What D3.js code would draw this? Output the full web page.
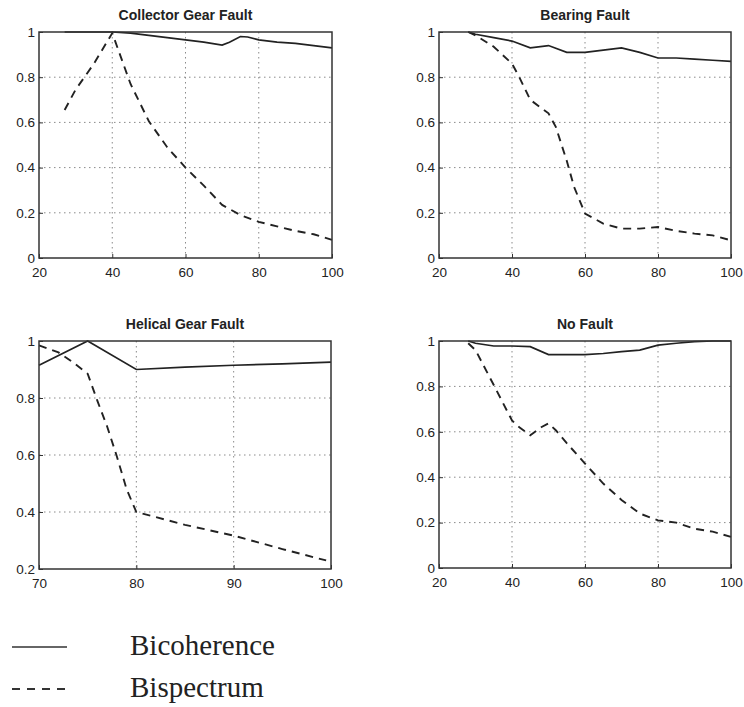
<!DOCTYPE html>
<html>
<head>
<meta charset="utf-8">
<script src="https://cdn.jsdelivr.net/npm/d3@7"></script>
<style>
  body { margin: 0; background: #fff; }
  svg { display: block; }
</style>
</head>
<body>
<script>
var width = 744,
    height = 707;

// ----- data -----
var titles = ["Collector Gear Fault", "Bearing Fault", "Helical Gear Fault", "No Fault"];
var xTicksWide = [20, 40, 60, 80, 100];
var xTicksHelical = [70, 80, 90, 100];
var yTicksFull = [0, 0.2, 0.4, 0.6, 0.8, 1];
var yTicksHelical = [0.2, 0.4, 0.6, 0.8, 1];

var collectorBicoX = [27, 30, 35, 40, 45, 50, 55, 60, 65, 70, 72, 75, 77, 80, 85, 90, 95, 100];
var collectorBicoY = [1.0, 1.0, 1.0, 1.0, 0.995, 0.985, 0.975, 0.965, 0.955, 0.942, 0.955, 0.98, 0.978, 0.965, 0.955, 0.95, 0.94, 0.93];
var collectorBispX = [27, 30, 35, 40, 45, 50, 55, 60, 65, 70, 75, 80, 85, 90, 95, 100];
var collectorBispY = [0.655, 0.745, 0.86, 0.995, 0.77, 0.605, 0.49, 0.40, 0.32, 0.235, 0.19, 0.16, 0.14, 0.12, 0.105, 0.08];

var bearingBicoX = [28, 30, 35, 40, 45, 50, 55, 60, 65, 70, 75, 80, 85, 90, 95, 100];
var bearingBicoY = [1.0, 0.99, 0.975, 0.96, 0.93, 0.94, 0.91, 0.91, 0.92, 0.93, 0.91, 0.885, 0.885, 0.88, 0.875, 0.87];
var bearingBispX = [28, 30, 35, 40, 42, 45, 50, 52, 55, 57, 60, 65, 70, 75, 80, 85, 90, 95, 100];
var bearingBispY = [1.0, 0.985, 0.935, 0.86, 0.8, 0.70, 0.64, 0.58, 0.43, 0.315, 0.197, 0.152, 0.13, 0.13, 0.137, 0.12, 0.108, 0.1, 0.078];

var helicalBicoX = [70, 75, 80, 85, 90, 95, 100];
var helicalBicoY = [0.915, 1.0, 0.9, 0.908, 0.915, 0.92, 0.926];
var helicalBispX = [70, 72, 73.5, 75, 76, 77, 78, 79, 80, 85, 90, 95, 99.5];
var helicalBispY = [0.985, 0.96, 0.925, 0.885, 0.79, 0.70, 0.595, 0.48, 0.40, 0.355, 0.317, 0.27, 0.23];

var noFaultBicoX = [28, 30, 35, 40, 45, 50, 55, 60, 65, 70, 75, 80, 85, 90, 95, 100];
var noFaultBicoY = [1.0, 0.99, 0.978, 0.978, 0.975, 0.94, 0.94, 0.94, 0.945, 0.953, 0.96, 0.982, 0.99, 0.997, 1.0, 1.0];
var noFaultBispX = [28, 30, 35, 40, 42, 45, 48, 50, 52, 55, 60, 65, 70, 75, 80, 85, 90, 95, 100];
var noFaultBispY = [0.99, 0.96, 0.806, 0.65, 0.62, 0.585, 0.62, 0.637, 0.607, 0.55, 0.46, 0.372, 0.30, 0.24, 0.21, 0.2, 0.173, 0.16, 0.137];

var legendLabels = ["Bicoherence", "Bispectrum"];

function zip(xs, ys) { return xs.map(function(x, i) { return [x, ys[i]]; }); }

var panels = [
  { title: titles[0], box: [39, 32, 332, 258], xDomain: [20, 100], yDomain: [0, 1], xTicks: xTicksWide, yTicks: yTicksFull,
    bico: zip(collectorBicoX, collectorBicoY), bisp: zip(collectorBispX, collectorBispY) },
  { title: titles[1], box: [439, 32, 731, 258], xDomain: [20, 100], yDomain: [0, 1], xTicks: xTicksWide, yTicks: yTicksFull,
    bico: zip(bearingBicoX, bearingBicoY), bisp: zip(bearingBispX, bearingBispY) },
  { title: titles[2], box: [39, 341, 331, 569], xDomain: [70, 100], yDomain: [0.2, 1], xTicks: xTicksHelical, yTicks: yTicksHelical,
    bico: zip(helicalBicoX, helicalBicoY), bisp: zip(helicalBispX, helicalBispY) },
  { title: titles[3], box: [439, 341, 731, 568], xDomain: [20, 100], yDomain: [0, 1], xTicks: xTicksWide, yTicks: yTicksFull,
    bico: zip(noFaultBicoX, noFaultBicoY), bisp: zip(noFaultBispX, noFaultBispY) }
];

var svg = d3.select("body").append("svg")
    .attr("width", width)
    .attr("height", height);

var fmt = d3.format("~g");

panels.forEach(function(p) {
  var x = d3.scaleLinear().domain(p.xDomain).range([p.box[0], p.box[2]]);
  var y = d3.scaleLinear().domain(p.yDomain).range([p.box[3], p.box[1]]);
  var g = svg.append("g");

  // dotted grid at inner ticks
  g.selectAll(".gx").data(p.xTicks.slice(1, -1)).enter().append("line")
      .attr("x1", x).attr("x2", x)
      .attr("y1", p.box[1]).attr("y2", p.box[3])
      .attr("stroke", "#8a8a8a").attr("stroke-width", 1)
      .attr("stroke-dasharray", "1.5,3.5");
  g.selectAll(".gy").data(p.yTicks.slice(1, -1)).enter().append("line")
      .attr("y1", y).attr("y2", y)
      .attr("x1", p.box[0]).attr("x2", p.box[2])
      .attr("stroke", "#8a8a8a").attr("stroke-width", 1)
      .attr("stroke-dasharray", "1.5,3.5");

  // axes (labels only, inward ticks)
  var xb = d3.axisBottom(x).tickValues(p.xTicks).tickFormat(fmt).tickSizeInner(-4).tickSizeOuter(0).tickPadding(9);
  var yl = d3.axisLeft(y).tickValues(p.yTicks).tickFormat(fmt).tickSizeInner(-4).tickSizeOuter(0).tickPadding(4);
  var ax = g.append("g").attr("transform", "translate(0," + p.box[3] + ")").call(xb);
  var ay = g.append("g").attr("transform", "translate(" + p.box[0] + ",0)").call(yl);
  [ax, ay].forEach(function(a) {
    a.select(".domain").remove();
    a.selectAll("line").attr("stroke", "#333");
    a.selectAll("text").attr("fill", "#222")
      .style("font-family", "Liberation Sans, Arial, sans-serif")
      .style("font-size", "13.5px");
  });

  // lines
  var line = d3.line().x(function(d) { return x(d[0]); }).y(function(d) { return y(d[1]); });
  g.append("path").datum(p.bico)
      .attr("d", line).attr("fill", "none")
      .attr("stroke", "#222").attr("stroke-width", 1.7);
  g.append("path").datum(p.bisp)
      .attr("d", line).attr("fill", "none")
      .attr("stroke", "#222").attr("stroke-width", 1.9)
      .attr("stroke-dasharray", "8,6");

  // frame
  g.append("rect")
      .attr("x", p.box[0]).attr("y", p.box[1])
      .attr("width", p.box[2] - p.box[0]).attr("height", p.box[3] - p.box[1])
      .attr("fill", "none").attr("stroke", "#333").attr("stroke-width", 1.5);

  g.append("text")
      .attr("x", (p.box[0] + p.box[2]) / 2).attr("y", p.box[1] - 12)
      .attr("text-anchor", "middle")
      .style("font-family", "Liberation Sans, Arial, sans-serif")
      .style("font-size", "14px").style("font-weight", "bold")
      .attr("fill", "#222")
      .text(p.title);
});

// legend
var leg = svg.append("g");
var legY = [647, 689];
leg.append("line").attr("x1", 12).attr("x2", 67).attr("y1", legY[0]).attr("y2", legY[0])
    .attr("stroke", "#333").attr("stroke-width", 1.5);
leg.append("line").attr("x1", 12).attr("x2", 70).attr("y1", legY[1]).attr("y2", legY[1])
    .attr("stroke", "#333").attr("stroke-width", 1.8).attr("stroke-dasharray", "8,7");
leg.selectAll("text").data(legendLabels).enter().append("text")
    .attr("x", 130)
    .attr("y", function(d, i) { return legY[i] + 8; })
    .style("font-family", "Liberation Serif, Times New Roman, serif")
    .style("font-size", "29px")
    .attr("fill", "#222")
    .text(function(d) { return d; });
</script>
</body>
</html>
